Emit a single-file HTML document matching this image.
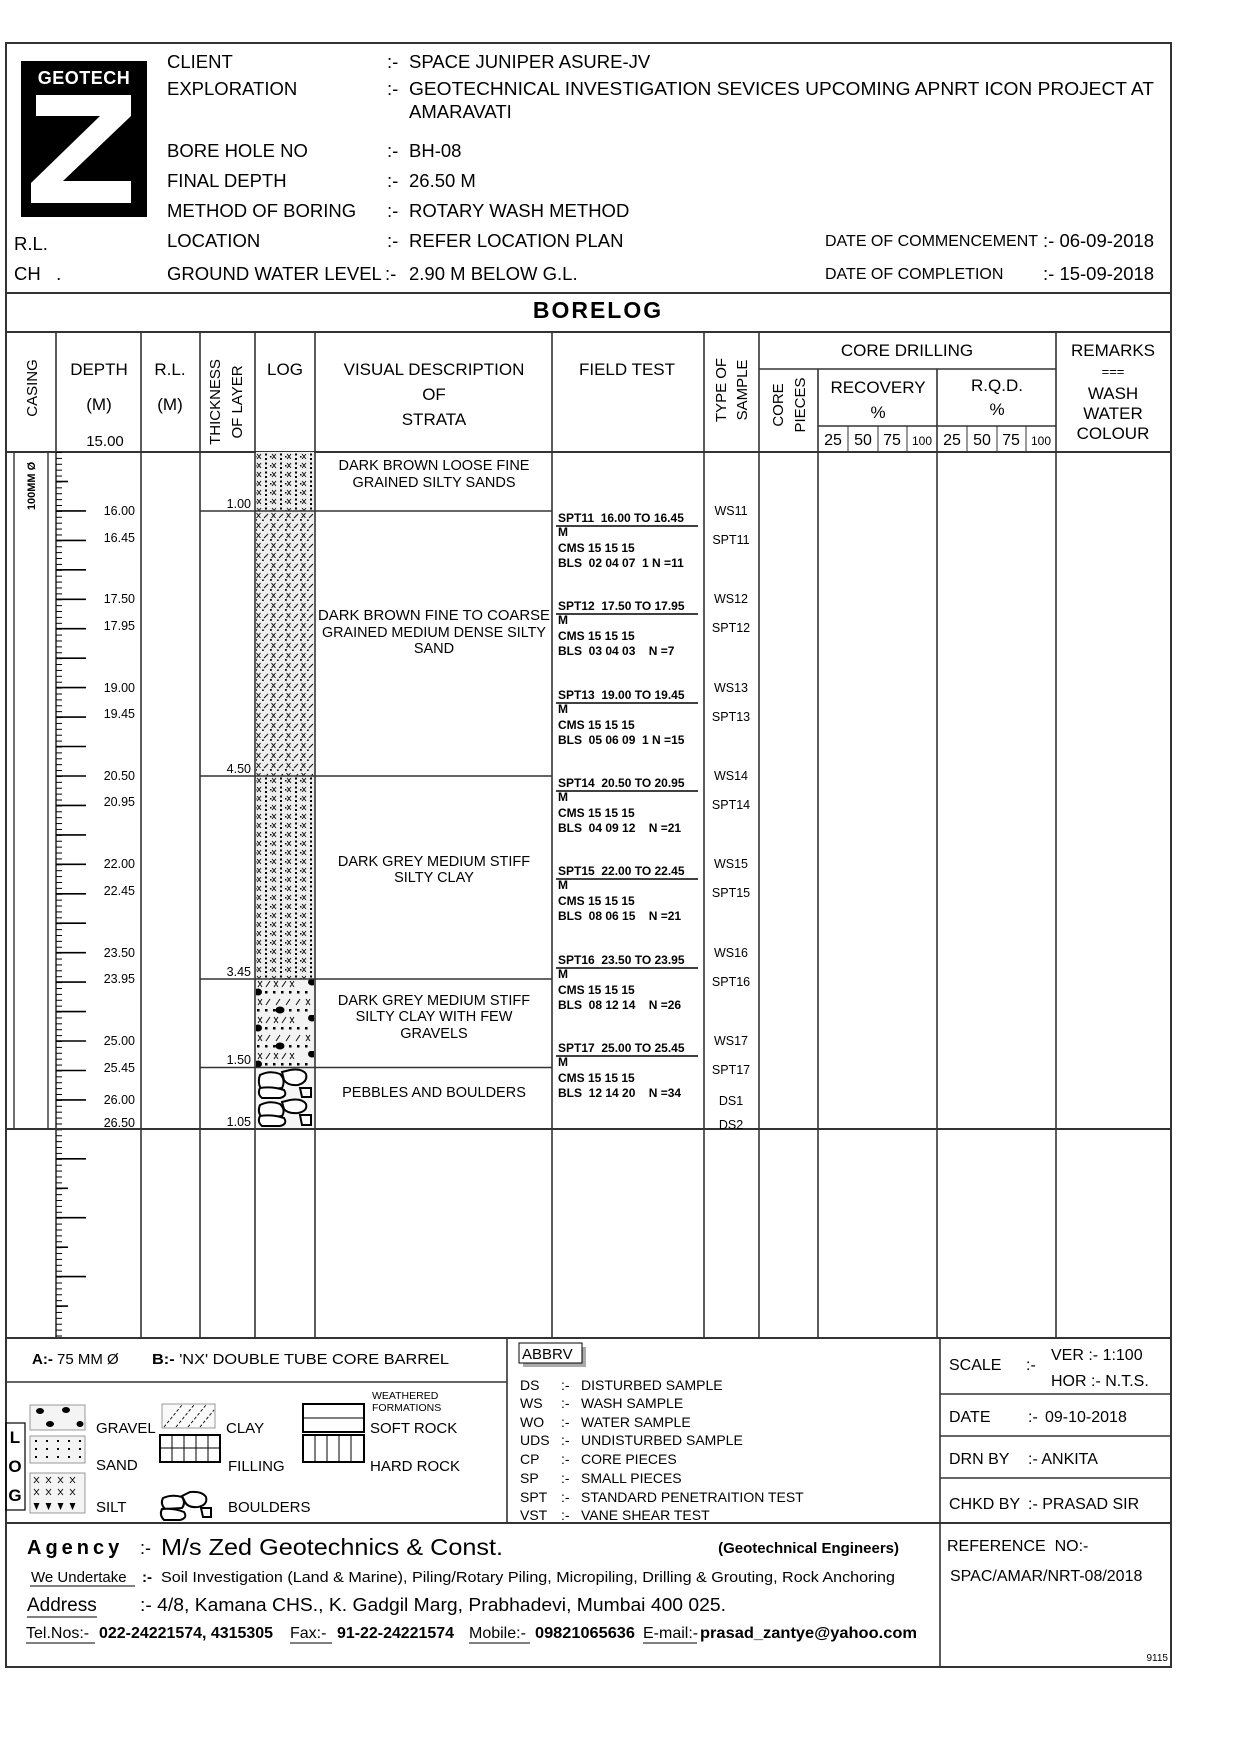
<!DOCTYPE html>
<html><head><meta charset="utf-8">
<style>
html,body{margin:0;padding:0;background:#fff;}
svg{display:block;}
text{font-family:"Liberation Sans",Arial,sans-serif;fill:#000;}
.b{font-weight:bold;}
.n{font-family:"Liberation Sans Narrow","Liberation Sans",sans-serif;}
</style></head>
<body>
<svg width="1240" height="1754" viewBox="0 0 1240 1754" xmlns="http://www.w3.org/2000/svg">
<defs>
<pattern id="tick" patternUnits="userSpaceOnUse" x="0" y="452" width="10" height="5.89">
<line x1="0" y1="0.5" x2="10" y2="0.5" stroke="#000" stroke-width="1"/>
</pattern>
<pattern id="silt" patternUnits="userSpaceOnUse" x="255" y="452" width="15" height="9">
<rect width="15" height="9" fill="#eee"/>
<path d="M2 2 L6 7 M6 2 L2 7" stroke="#000" stroke-width="0.9"/>
<rect x="10" y="1.5" width="2" height="2" fill="#000"/>
<rect x="10" y="6" width="2" height="2" fill="#000"/>
<rect x="0" y="4" width="1.5" height="1.5" fill="#000"/>
</pattern>
<pattern id="ssand" patternUnits="userSpaceOnUse" x="255" y="511" width="15" height="10">
<rect width="15" height="10" fill="#eee"/>
<path d="M1.5 2 L5.5 7 M5.5 2 L1.5 7" stroke="#000" stroke-width="0.9"/>
<path d="M9 7 L13 3" stroke="#000" stroke-width="0.9"/>
<rect x="0" y="8" width="1.8" height="1.8" fill="#000"/>
<rect x="7" y="8.5" width="1.8" height="1.4" fill="#000"/>
</pattern>
<pattern id="grav" patternUnits="userSpaceOnUse" x="255" y="979" width="60" height="36">
<rect width="60" height="36" fill="#f3f3f3"/>
<path d="M3 2 L7 8 M7 2 L3 8 M11 8 L15 2 M19 2 L23 8 M23 2 L19 8 M27 8 L31 2 M35 2 L39 8 M39 2 L35 8" stroke="#000" stroke-width="0.9"/>
<g fill="#000"><rect x="2" y="12" width="2.5" height="2.5"/><rect x="10" y="12" width="2.5" height="2.5"/><rect x="18" y="12" width="2.5" height="2.5"/><rect x="26" y="12" width="2.5" height="2.5"/><rect x="34" y="12" width="2.5" height="2.5"/><rect x="42" y="12" width="2.5" height="2.5"/><rect x="50" y="12" width="2.5" height="2.5"/>
<ellipse cx="3" cy="13" rx="4" ry="3.5"/><ellipse cx="57" cy="3" rx="4" ry="3.5"/>
<rect x="2" y="30" width="2.5" height="2.5"/><rect x="10" y="30" width="2.5" height="2.5"/><rect x="18" y="30" width="2.5" height="2.5"/><rect x="26" y="30" width="2.5" height="2.5"/><rect x="34" y="30" width="2.5" height="2.5"/><rect x="42" y="30" width="2.5" height="2.5"/><rect x="50" y="30" width="2.5" height="2.5"/>
<ellipse cx="25" cy="31" rx="4.5" ry="3.5"/></g>
<path d="M3 20 L7 26 M7 20 L3 26 M11 26 L15 20 M21 26 L25 20 M31 26 L35 20 M41 26 L45 20 M51 20 L55 26 M55 20 L51 26" stroke="#000" stroke-width="0.9"/>
</pattern>
</defs>

<rect x="6" y="43" width="1165" height="1624" fill="none" stroke="#333" stroke-width="2"/>

<rect x="21" y="61" width="126" height="156" fill="#000"/>
<text x="84" y="84" class="b" font-size="18" text-anchor="middle" style="fill:#fff" letter-spacing="0.5">GEOTECH</text>
<polygon points="36,95 131,95 131,116 63,181 131,181 131,203 31,203 31,183 100,116 36,116" fill="#fff"/>

<g font-size="18.5">
<text x="167" y="68">CLIENT</text>
<text x="167" y="95">EXPLORATION</text>
<text x="167" y="157">BORE HOLE NO</text>
<text x="167" y="187">FINAL DEPTH</text>
<text x="167" y="217">METHOD OF BORING</text>
<text x="167" y="247">LOCATION</text>
<text x="167" y="280">GROUND WATER LEVEL</text>
<text x="14" y="250">R.L.</text>
<text x="14" y="280">CH&#160;&#160;&#160;.</text>
<text x="387" y="68">:-</text><text x="409" y="68">SPACE JUNIPER ASURE-JV</text>
<text x="387" y="95">:-</text><text x="409" y="95" textLength="745" lengthAdjust="spacingAndGlyphs">GEOTECHNICAL INVESTIGATION SEVICES UPCOMING APNRT ICON PROJECT AT</text>
<text x="409" y="118">AMARAVATI</text>
<text x="387" y="157">:-</text><text x="409" y="157">BH-08</text>
<text x="387" y="187">:-</text><text x="409" y="187">26.50 M</text>
<text x="387" y="217">:-</text><text x="409" y="217">ROTARY WASH METHOD</text>
<text x="387" y="247">:-</text><text x="409" y="247">REFER LOCATION PLAN</text>
<text x="385" y="280">:-</text><text x="409" y="280">2.90 M BELOW G.L.</text>
<text x="1043" y="247">:- 06-09-2018</text>
<text x="1043" y="280">:- 15-09-2018</text>
</g>
<text x="825" y="246" font-size="16">DATE OF COMMENCEMENT</text>
<text x="825" y="279" font-size="16">DATE OF COMPLETION</text>

<line x1="6" y1="293" x2="1171" y2="293" stroke="#333" stroke-width="2"/>
<text x="598" y="318" class="b" font-size="23" text-anchor="middle" letter-spacing="2">BORELOG</text>
<line x1="6" y1="332" x2="1171" y2="332" stroke="#333" stroke-width="2"/>
<line x1="6" y1="452" x2="1171" y2="452" stroke="#333" stroke-width="2"/>

<g stroke="#333" stroke-width="1.6">
<line x1="56" y1="332" x2="56" y2="1338"/>
<line x1="141" y1="332" x2="141" y2="1338"/>
<line x1="200" y1="332" x2="200" y2="1338"/>
<line x1="255" y1="332" x2="255" y2="1338"/>
<line x1="315" y1="332" x2="315" y2="1338"/>
<line x1="552" y1="332" x2="552" y2="1338"/>
<line x1="704" y1="332" x2="704" y2="1338"/>
<line x1="759" y1="332" x2="759" y2="1338"/>
<line x1="818" y1="369" x2="818" y2="1338"/>
<line x1="937" y1="369" x2="937" y2="1338"/>
<line x1="1056" y1="332" x2="1056" y2="1338"/>
<line x1="759" y1="369" x2="1056" y2="369"/>
<line x1="818" y1="426" x2="1056" y2="426"/>
</g>
<g stroke="#333" stroke-width="1">
<line x1="848" y1="426" x2="848" y2="452"/><line x1="878" y1="426" x2="878" y2="452"/><line x1="907" y1="426" x2="907" y2="452"/>
<line x1="967" y1="426" x2="967" y2="452"/><line x1="997" y1="426" x2="997" y2="452"/><line x1="1026" y1="426" x2="1026" y2="452"/>
</g>

<g font-size="17" text-anchor="middle">
<text x="99" y="375">DEPTH</text>
<text x="99" y="410">(M)</text>
<text x="170" y="375">R.L.</text>
<text x="170" y="410">(M)</text>
<text x="285" y="375">LOG</text>
<text x="434" y="375">VISUAL DESCRIPTION</text>
<text x="434" y="400">OF</text>
<text x="434" y="425">STRATA</text>
<text x="627" y="375">FIELD TEST</text>
<text x="907" y="356">CORE DRILLING</text>
<text x="878" y="393">RECOVERY</text>
<text x="878" y="418">%</text>
<text x="997" y="391">R.Q.D.</text>
<text x="997" y="415">%</text>
<text x="1113" y="356">REMARKS</text>
<text x="1113" y="376" font-size="13">===</text>
<text x="1113" y="399">WASH</text>
<text x="1113" y="419">WATER</text>
<text x="1113" y="439">COLOUR</text>
</g>
<text x="105" y="446" font-size="15" text-anchor="middle">15.00</text>
<g font-size="16" text-anchor="middle">
<text x="833" y="445">25</text><text x="863" y="445">50</text><text x="892" y="445">75</text><text x="922" y="445" font-size="12">100</text>
<text x="952" y="445">25</text><text x="982" y="445">50</text><text x="1011" y="445">75</text><text x="1041" y="445" font-size="12">100</text>
</g>
<g font-size="15" text-anchor="middle">
<text transform="translate(37,388) rotate(-90)">CASING</text>
<text transform="translate(220,402) rotate(-90)">THICKNESS</text>
<text transform="translate(242,402) rotate(-90)">OF LAYER</text>
<text transform="translate(726,390) rotate(-90)">TYPE OF</text>
<text transform="translate(747,390) rotate(-90)">SAMPLE</text>
<text transform="translate(783,405) rotate(-90)">CORE</text>
<text transform="translate(805,405) rotate(-90)">PIECES</text>
</g>

<rect x="14" y="452" width="34" height="677" fill="none" stroke="#333" stroke-width="1.4"/>
<text transform="translate(35,486) rotate(-90)" font-size="11" text-anchor="middle" class="b">100MM Ø</text>

<rect x="56" y="452" width="6" height="886" fill="url(#tick)"/>
<g stroke="#000" stroke-width="1.6">
<line x1="56" y1="481.5" x2="68" y2="481.5"/>
<line x1="56" y1="510.9" x2="86" y2="510.9"/><line x1="56" y1="540.4" x2="86" y2="540.4"/>
<line x1="56" y1="569.8" x2="86" y2="569.8"/><line x1="56" y1="599.3" x2="86" y2="599.3"/>
<line x1="56" y1="628.7" x2="86" y2="628.7"/><line x1="56" y1="658.2" x2="86" y2="658.2"/>
<line x1="56" y1="687.6" x2="86" y2="687.6"/><line x1="56" y1="717.1" x2="86" y2="717.1"/>
<line x1="56" y1="746.5" x2="86" y2="746.5"/><line x1="56" y1="776" x2="86" y2="776"/>
<line x1="56" y1="805.4" x2="86" y2="805.4"/><line x1="56" y1="834.9" x2="86" y2="834.9"/>
<line x1="56" y1="864.3" x2="86" y2="864.3"/><line x1="56" y1="893.8" x2="86" y2="893.8"/>
<line x1="56" y1="923.2" x2="86" y2="923.2"/><line x1="56" y1="952.7" x2="86" y2="952.7"/>
<line x1="56" y1="982.1" x2="86" y2="982.1"/><line x1="56" y1="1011.6" x2="86" y2="1011.6"/>
<line x1="56" y1="1041" x2="86" y2="1041"/><line x1="56" y1="1070.5" x2="86" y2="1070.5"/>
<line x1="56" y1="1099.9" x2="86" y2="1099.9"/>
<line x1="56" y1="1158.8" x2="86" y2="1158.8"/><line x1="56" y1="1188.3" x2="68" y2="1188.3"/>
<line x1="56" y1="1217.7" x2="86" y2="1217.7"/><line x1="56" y1="1247.2" x2="68" y2="1247.2"/>
<line x1="56" y1="1276.6" x2="86" y2="1276.6"/><line x1="56" y1="1306.1" x2="68" y2="1306.1"/>
</g>
<g font-size="12.5" text-anchor="end">
<text x="135" y="515">16.00</text><text x="135" y="542">16.45</text>
<text x="135" y="603">17.50</text><text x="135" y="630">17.95</text>
<text x="135" y="692">19.00</text><text x="135" y="718">19.45</text>
<text x="135" y="780">20.50</text><text x="135" y="806">20.95</text>
<text x="135" y="868">22.00</text><text x="135" y="895">22.45</text>
<text x="135" y="957">23.50</text><text x="135" y="983">23.95</text>
<text x="135" y="1045">25.00</text><text x="135" y="1072">25.45</text>
<text x="135" y="1104">26.00</text><text x="135" y="1127">26.50</text>
</g>

<rect x="256" y="452" width="58" height="59" fill="url(#silt)"/>
<rect x="256" y="511" width="58" height="265" fill="url(#ssand)"/>
<rect x="256" y="776" width="58" height="203" fill="url(#silt)"/>
<rect x="256" y="979" width="58" height="88.5" fill="url(#grav)"/>
<rect x="256" y="1067.5" width="58" height="61.5" fill="#f6f6f6"/>
<g fill="#fff" stroke="#000" stroke-width="2">
<path d="M260 1075 Q270 1070 280 1074 Q286 1080 282 1088 L262 1090 Q257 1084 260 1075Z"/>
<path d="M282 1072 L290 1070 Q302 1068 306 1074 Q308 1082 298 1085 Q288 1086 284 1080Z"/>
<path d="M260 1088 Q272 1086 284 1090 Q288 1096 280 1098 L262 1098 Q257 1094 260 1088Z"/>
<path d="M300 1088 L311 1088 L311 1097 L302 1097Z"/>
<path d="M260 1105 Q270 1100 280 1104 Q286 1110 282 1116 L262 1118 Q257 1112 260 1105Z"/>
<path d="M282 1102 L290 1100 Q302 1098 306 1104 Q308 1111 298 1113 Q288 1114 284 1109Z"/>
<path d="M260 1116 Q272 1114 284 1118 Q288 1124 280 1126 L262 1126 Q257 1122 260 1116Z"/>
<path d="M300 1115 L311 1115 L311 1125 L302 1125Z"/>
</g>

<g stroke="#333" stroke-width="1.6">
<line x1="200" y1="511" x2="552" y2="511"/>
<line x1="200" y1="776" x2="552" y2="776"/>
<line x1="200" y1="979" x2="552" y2="979"/>
<line x1="200" y1="1067.5" x2="552" y2="1067.5"/>
<line x1="6" y1="1129" x2="1171" y2="1129" stroke-width="2"/>
</g>
<g font-size="12.5" text-anchor="end">
<text x="251" y="508">1.00</text>
<text x="251" y="773">4.50</text>
<text x="251" y="976">3.45</text>
<text x="251" y="1064">1.50</text>
<text x="251" y="1126">1.05</text>
</g>

<g font-size="14.5" text-anchor="middle">
<text x="434" y="470">DARK BROWN LOOSE FINE</text>
<text x="434" y="487">GRAINED SILTY SANDS</text>
<text x="434" y="620" textLength="232" lengthAdjust="spacingAndGlyphs">DARK BROWN FINE TO COARSE</text>
<text x="434" y="637" textLength="224" lengthAdjust="spacingAndGlyphs">GRAINED MEDIUM DENSE SILTY</text>
<text x="434" y="653">SAND</text>
<text x="434" y="866">DARK GREY MEDIUM STIFF</text>
<text x="434" y="882">SILTY CLAY</text>
<text x="434" y="1005">DARK GREY MEDIUM STIFF</text>
<text x="434" y="1021">SILTY CLAY WITH FEW</text>
<text x="434" y="1038">GRAVELS</text>
<text x="434" y="1097">PEBBLES AND BOULDERS</text>
</g>

<g class="b n" font-size="12">
<text x="558" y="522">SPT11&#160;&#160;16.00 TO 16.45</text><text x="558" y="536">M</text><text x="558" y="552">CMS 15 15 15</text><text x="558" y="567">BLS&#160;&#160;02 04 07&#160;&#160;1 N =11</text>
<text x="558" y="610">SPT12&#160;&#160;17.50 TO 17.95</text><text x="558" y="624">M</text><text x="558" y="640">CMS 15 15 15</text><text x="558" y="655">BLS&#160;&#160;03 04 03&#160;&#160;&#160;&#160;N =7</text>
<text x="558" y="699">SPT13&#160;&#160;19.00 TO 19.45</text><text x="558" y="713">M</text><text x="558" y="729">CMS 15 15 15</text><text x="558" y="744">BLS&#160;&#160;05 06 09&#160;&#160;1 N =15</text>
<text x="558" y="787">SPT14&#160;&#160;20.50 TO 20.95</text><text x="558" y="801">M</text><text x="558" y="817">CMS 15 15 15</text><text x="558" y="832">BLS&#160;&#160;04 09 12&#160;&#160;&#160;&#160;N =21</text>
<text x="558" y="875">SPT15&#160;&#160;22.00 TO 22.45</text><text x="558" y="889">M</text><text x="558" y="905">CMS 15 15 15</text><text x="558" y="920">BLS&#160;&#160;08 06 15&#160;&#160;&#160;&#160;N =21</text>
<text x="558" y="964">SPT16&#160;&#160;23.50 TO 23.95</text><text x="558" y="978">M</text><text x="558" y="994">CMS 15 15 15</text><text x="558" y="1009">BLS&#160;&#160;08 12 14&#160;&#160;&#160;&#160;N =26</text>
<text x="558" y="1052">SPT17&#160;&#160;25.00 TO 25.45</text><text x="558" y="1066">M</text><text x="558" y="1082">CMS 15 15 15</text><text x="558" y="1097">BLS&#160;&#160;12 14 20&#160;&#160;&#160;&#160;N =34</text>
</g>
<g stroke="#000" stroke-width="1.4">
<line x1="556" y1="526" x2="698" y2="526"/><line x1="556" y1="614" x2="698" y2="614"/>
<line x1="556" y1="703" x2="698" y2="703"/><line x1="556" y1="791" x2="698" y2="791"/>
<line x1="556" y1="879" x2="698" y2="879"/><line x1="556" y1="968" x2="698" y2="968"/>
<line x1="556" y1="1056" x2="698" y2="1056"/>
</g>
<g font-size="12.5" text-anchor="middle">
<text x="731" y="515">WS11</text><text x="731" y="544">SPT11</text>
<text x="731" y="603">WS12</text><text x="731" y="632">SPT12</text>
<text x="731" y="692">WS13</text><text x="731" y="721">SPT13</text>
<text x="731" y="780">WS14</text><text x="731" y="809">SPT14</text>
<text x="731" y="868">WS15</text><text x="731" y="897">SPT15</text>
<text x="731" y="957">WS16</text><text x="731" y="986">SPT16</text>
<text x="731" y="1045">WS17</text><text x="731" y="1074">SPT17</text>
<text x="731" y="1105">DS1</text><text x="731" y="1129">DS2</text>
</g>

<line x1="6" y1="1338" x2="1171" y2="1338" stroke="#333" stroke-width="2"/>
<line x1="6" y1="1382" x2="507" y2="1382" stroke="#333" stroke-width="1.6"/>
<line x1="507" y1="1338" x2="507" y2="1523" stroke="#333" stroke-width="1.6"/>
<line x1="940" y1="1338" x2="940" y2="1667" stroke="#333" stroke-width="1.6"/>
<g stroke="#333" stroke-width="1.6">
<line x1="940" y1="1394" x2="1171" y2="1394"/>
<line x1="940" y1="1436" x2="1171" y2="1436"/>
<line x1="940" y1="1478" x2="1171" y2="1478"/>
</g>
<line x1="6" y1="1523" x2="1171" y2="1523" stroke="#333" stroke-width="2"/>

<text x="32" y="1364" font-size="15"><tspan class="b">A:-</tspan> 75 MM Ø</text>
<text x="152" y="1364" font-size="15" textLength="297" lengthAdjust="spacingAndGlyphs"><tspan class="b">B:-</tspan> 'NX' DOUBLE TUBE CORE BARREL</text>

<rect x="6" y="1423" width="19" height="87" fill="none" stroke="#000" stroke-width="1.2"/>
<g class="b" font-size="17" text-anchor="middle">
<text x="15" y="1443">L</text><text x="15" y="1472">O</text><text x="15" y="1501">G</text>
</g>
<rect x="30" y="1405" width="55" height="25" fill="#f4f4f4" stroke="#999" stroke-width="1"/>
<g fill="#000"><ellipse cx="40" cy="1411" rx="4" ry="3"/><ellipse cx="66" cy="1410" rx="4" ry="3"/><ellipse cx="50" cy="1424" rx="4" ry="3"/><ellipse cx="80" cy="1424" rx="3.5" ry="3"/></g>
<rect x="162" y="1404" width="53" height="24" fill="#fafafa" stroke="#999" stroke-width="1"/>
<g stroke="#000" stroke-width="0.9" stroke-dasharray="3,2">
<line x1="164" y1="1427" x2="182" y2="1405"/><line x1="176" y1="1427" x2="194" y2="1405"/><line x1="188" y1="1427" x2="206" y2="1405"/><line x1="200" y1="1427" x2="214" y2="1410"/>
</g>
<rect x="303" y="1404" width="61" height="28" fill="none" stroke="#000" stroke-width="2"/>
<line x1="303" y1="1418" x2="364" y2="1418" stroke="#000" stroke-width="1"/>
<rect x="30" y="1436" width="55" height="27" fill="#f4f4f4" stroke="#999" stroke-width="1"/>
<g fill="#000">
<rect x="35" y="1440" width="2" height="2"/><rect x="46" y="1440" width="2" height="2"/><rect x="57" y="1440" width="2" height="2"/><rect x="68" y="1440" width="2" height="2"/><rect x="79" y="1440" width="2" height="2"/>
<rect x="35" y="1448" width="2" height="2"/><rect x="46" y="1448" width="2" height="2"/><rect x="57" y="1448" width="2" height="2"/><rect x="68" y="1448" width="2" height="2"/><rect x="79" y="1448" width="2" height="2"/>
<rect x="35" y="1456" width="2" height="2"/><rect x="46" y="1456" width="2" height="2"/><rect x="57" y="1456" width="2" height="2"/><rect x="68" y="1456" width="2" height="2"/><rect x="79" y="1456" width="2" height="2"/>
</g>
<rect x="160" y="1435" width="60" height="27" fill="none" stroke="#000" stroke-width="2"/>
<g stroke="#000" stroke-width="1"><line x1="160" y1="1448" x2="220" y2="1448"/><line x1="172" y1="1435" x2="172" y2="1462"/><line x1="184" y1="1435" x2="184" y2="1462"/><line x1="196" y1="1435" x2="196" y2="1462"/><line x1="208" y1="1435" x2="208" y2="1462"/></g>
<rect x="303" y="1435" width="61" height="27" fill="none" stroke="#000" stroke-width="2"/>
<g stroke="#000" stroke-width="1"><line x1="315" y1="1435" x2="315" y2="1462"/><line x1="327" y1="1435" x2="327" y2="1462"/><line x1="339" y1="1435" x2="339" y2="1462"/><line x1="351" y1="1435" x2="351" y2="1462"/></g>
<rect x="30" y="1473" width="55" height="40" fill="#f4f4f4" stroke="#999" stroke-width="1"/>
<g stroke="#000" stroke-width="0.9">
<path d="M34 1477 L39 1483 M39 1477 L34 1483 M46 1477 L51 1483 M51 1477 L46 1483 M58 1477 L63 1483 M63 1477 L58 1483 M70 1477 L75 1483 M75 1477 L70 1483"/>
<path d="M34 1489 L39 1495 M39 1489 L34 1495 M46 1489 L51 1495 M51 1489 L46 1495 M58 1489 L63 1495 M63 1489 L58 1495 M70 1489 L75 1495 M75 1489 L70 1495"/>
<path d="M34 1503 L36.5 1509 L39 1503 M46 1503 L48.5 1509 L51 1503 M58 1503 L60.5 1509 L63 1503 M70 1503 L72.5 1509 L75 1503"/>
</g>
<g fill="#fff" stroke="#000" stroke-width="2">
<path d="M163 1498 Q172 1494 182 1497 Q186 1503 182 1508 L165 1509 Q160 1504 163 1498Z"/>
<path d="M182 1496 L190 1492 Q202 1491 206 1497 Q208 1505 198 1507 Q188 1508 185 1502Z"/>
<path d="M162 1509 Q174 1508 184 1512 Q188 1518 180 1520 L164 1520 Q159 1515 162 1509Z"/>
<path d="M201 1508 L211 1508 L211 1517 L203 1517Z"/>
</g>
<g font-size="15">
<text x="96" y="1433">GRAVEL</text><text x="226" y="1433">CLAY</text><text x="370" y="1433">SOFT ROCK</text>
<text x="96" y="1470">SAND</text><text x="228" y="1471">FILLING</text><text x="370" y="1471">HARD ROCK</text>
<text x="96" y="1512">SILT</text><text x="228" y="1512">BOULDERS</text>
</g>
<text x="372" y="1399" font-size="10.5">WEATHERED</text>
<text x="372" y="1411" font-size="10.5">FORMATIONS</text>

<rect x="523" y="1347" width="63" height="20" fill="#aaa"/>
<rect x="519" y="1343" width="63" height="20" fill="#fff" stroke="#000" stroke-width="1"/>
<text x="522" y="1359" font-size="15">ABBRV</text>
<g font-size="14">
<text x="520" y="1390">DS</text><text x="561" y="1390">:-</text><text x="581" y="1390">DISTURBED SAMPLE</text>
<text x="520" y="1408">WS</text><text x="561" y="1408">:-</text><text x="581" y="1408">WASH SAMPLE</text>
<text x="520" y="1427">WO</text><text x="561" y="1427">:-</text><text x="581" y="1427">WATER SAMPLE</text>
<text x="520" y="1445">UDS</text><text x="561" y="1445">:-</text><text x="581" y="1445">UNDISTURBED SAMPLE</text>
<text x="520" y="1464">CP</text><text x="561" y="1464">:-</text><text x="581" y="1464">CORE PIECES</text>
<text x="520" y="1483">SP</text><text x="561" y="1483">:-</text><text x="581" y="1483">SMALL PIECES</text>
<text x="520" y="1502">SPT</text><text x="561" y="1502">:-</text><text x="581" y="1502">STANDARD PENETRAITION TEST</text>
<text x="520" y="1520">VST</text><text x="561" y="1520">:-</text><text x="581" y="1520">VANE SHEAR TEST</text>
</g>

<g font-size="16">
<text x="949" y="1370">SCALE</text><text x="1026" y="1370">:-</text>
<text x="1051" y="1360">VER :- 1:100</text>
<text x="1051" y="1386">HOR :- N.T.S.</text>
<text x="949" y="1422">DATE</text><text x="1028" y="1422">:-</text><text x="1045" y="1422">09-10-2018</text>
<text x="949" y="1464">DRN BY</text><text x="1028" y="1464">:- ANKITA</text>
<text x="949" y="1509">CHKD BY</text><text x="1028" y="1509">:- PRASAD SIR</text>
<text x="947" y="1551">REFERENCE&#160;&#160;NO:-</text>
<text x="950" y="1581">SPAC/AMAR/NRT-08/2018</text>
</g>
<text x="1168" y="1661" font-size="10" text-anchor="end">9115</text>

<text x="27" y="1554" class="b" font-size="20" letter-spacing="4">Agency</text>
<text x="140" y="1554" font-size="18">:-</text>
<text x="161" y="1555" font-size="23" textLength="342" lengthAdjust="spacingAndGlyphs">M/s Zed Geotechnics &amp; Const.</text>
<text x="899" y="1553" class="b" font-size="15" text-anchor="end">(Geotechnical Engineers)</text>
<text x="31" y="1582" font-size="15">We Undertake</text>
<line x1="30" y1="1586" x2="135" y2="1586" stroke="#000" stroke-width="1"/>
<text x="142" y="1582" font-size="15" class="b">:-</text>
<text x="161" y="1582" font-size="15" textLength="734" lengthAdjust="spacingAndGlyphs">Soil Investigation (Land &amp; Marine), Piling/Rotary Piling, Micropiling, Drilling &amp; Grouting, Rock Anchoring</text>
<text x="27" y="1611" font-size="19">Address</text>
<line x1="27" y1="1617" x2="97" y2="1617" stroke="#000" stroke-width="1"/>
<text x="140" y="1611" font-size="18" textLength="586" lengthAdjust="spacingAndGlyphs">:- 4/8, Kamana CHS., K. Gadgil Marg, Prabhadevi, Mumbai 400 025.</text>
<g font-size="16">
<text x="26" y="1638">Tel.Nos:-</text>
<text x="99" y="1638" class="b" textLength="174" lengthAdjust="spacingAndGlyphs">022-24221574, 4315305</text>
<text x="290" y="1638">Fax:-</text>
<text x="337" y="1638" class="b" textLength="117" lengthAdjust="spacingAndGlyphs">91-22-24221574</text>
<text x="469" y="1638">Mobile:-</text>
<text x="535" y="1638" class="b" textLength="100" lengthAdjust="spacingAndGlyphs">09821065636</text>
<text x="643" y="1638">E-mail:-</text>
<text x="700" y="1638" class="b" textLength="217" lengthAdjust="spacingAndGlyphs">prasad_zantye@yahoo.com</text>
</g>
<g stroke="#000" stroke-width="1">
<line x1="26" y1="1643" x2="95" y2="1643"/><line x1="290" y1="1643" x2="332" y2="1643"/>
<line x1="469" y1="1643" x2="530" y2="1643"/><line x1="643" y1="1643" x2="697" y2="1643"/>
</g>
</svg>
</body></html>
